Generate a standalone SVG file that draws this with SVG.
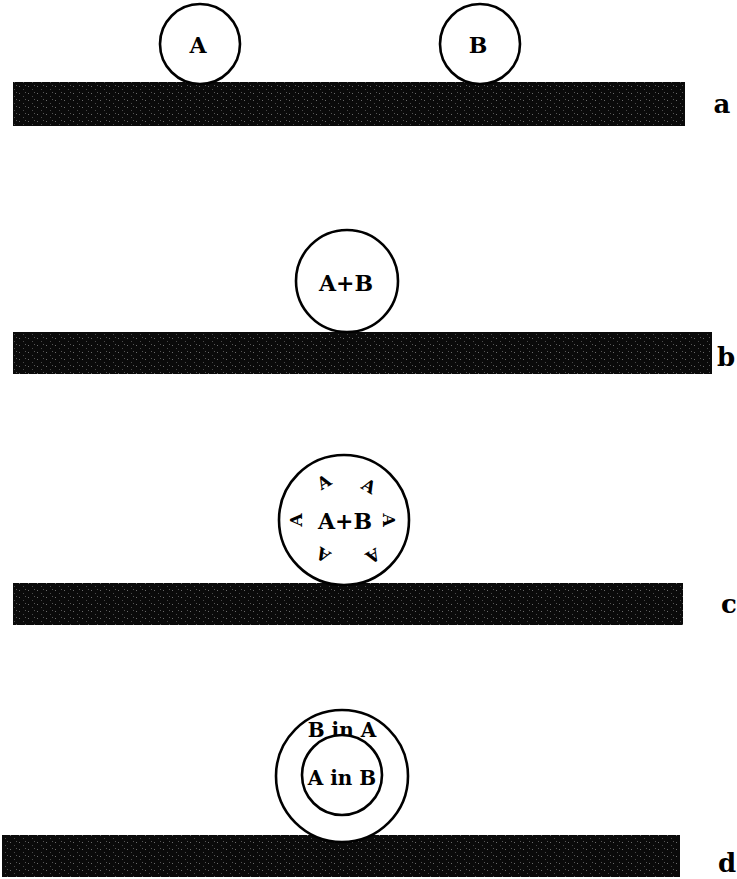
<svg xmlns="http://www.w3.org/2000/svg" width="737" height="879" viewBox="0 0 737 879">
<defs>
<pattern id="spk" width="9" height="7" patternUnits="userSpaceOnUse">
<rect width="9" height="7" fill="#0a0a0a"/>
<rect x="1" y="2" width="1" height="1" fill="#6a6a6a"/>
<rect x="5" y="5" width="1" height="1" fill="#4a4a4a"/>
<rect x="7" y="1" width="1" height="1" fill="#555"/>
</pattern>
</defs>
<style>
.bar{fill:url(#spk)}
.c{fill:#fff;stroke:#000;stroke-width:2.6}
.t{font-family:"DejaVu Serif","Liberation Serif",serif;font-weight:bold;font-size:22px;fill:#000;text-anchor:middle}
.s{font-size:17px}
.m{font-size:20px}
.lb{font-family:"DejaVu Serif","Liberation Serif",serif;font-weight:bold;font-size:26px;fill:#000;text-anchor:middle}
</style>
<g id="panel-a">
<rect class="bar" x="13" y="82" width="672" height="44"/>
<g id="nodeA"><circle class="c" cx="200" cy="44" r="40"/><text class="t" x="198" y="53">A</text></g>
<g id="nodeB"><circle class="c" cx="480" cy="44" r="40"/><text class="t" x="478" y="53">B</text></g>
<text class="lb" x="722" y="113">a</text>
</g>
<g id="panel-b">
<rect class="bar" x="13" y="332" width="699" height="42"/>
<g id="nodeAB"><circle class="c" cx="347" cy="281" r="51"/><text class="t" x="346" y="291">A+B</text></g>
<text class="lb" x="726" y="366">b</text>
</g>
<g id="panel-c">
<rect class="bar" x="13" y="583" width="670" height="42"/>
<g id="nodeABc"><circle class="c" cx="344" cy="520" r="65"/><text class="t" x="345" y="529">A+B</text>
<text class="t s" transform="translate(324,482) rotate(-30)" y="6">A</text>
<text class="t s" transform="translate(369,486) rotate(30)" y="6">A</text>
<text class="t s" transform="translate(296,520) rotate(-90)" y="6">A</text>
<text class="t s" transform="translate(389,520) rotate(90)" y="6">A</text>
<text class="t s" transform="translate(323,555) rotate(210)" y="6">A</text>
<text class="t s" transform="translate(373,556) rotate(150)" y="6">A</text>
</g>
<text class="lb" x="729" y="613">c</text>
</g>
<g id="panel-d">
<rect class="bar" x="2" y="835" width="678" height="42"/>
<g id="nodeOuter"><circle class="c" cx="342" cy="776" r="66"/><text class="t m" x="342" y="737">B in A</text></g>
<g id="nodeInner"><circle class="c" cx="342" cy="775" r="40"/><text class="t m" x="342" y="785">A in B</text></g>
<text class="lb" x="727" y="872">d</text>
</g>
</svg>
